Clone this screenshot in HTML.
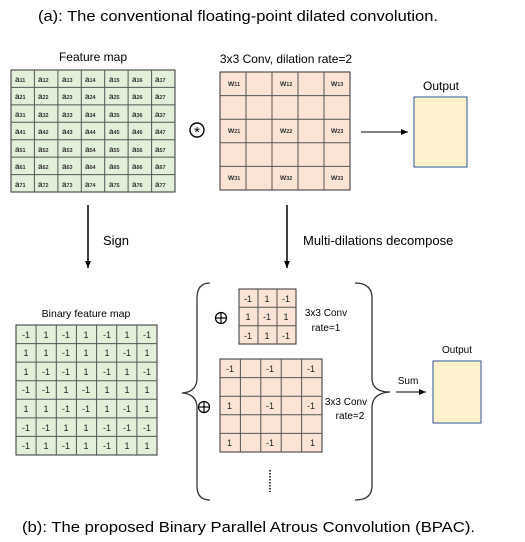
<!DOCTYPE html>
<html><head><meta charset="utf-8"><style>
html,body{margin:0;padding:0;background:#fff;}
svg{display:block;font-family:"Liberation Sans",sans-serif;}
</style></head><body>
<svg width="525" height="542" viewBox="0 0 525 542" xmlns="http://www.w3.org/2000/svg">
<defs><marker id="ah" markerWidth="8" markerHeight="8" refX="7" refY="4" orient="auto" markerUnits="userSpaceOnUse"><path d="M0,1 L7,4 L0,7 z" fill="#000"/></marker></defs>
<text x="38" y="21" font-size="15" textLength="400" lengthAdjust="spacingAndGlyphs">(a): The conventional floating-point dilated convolution.</text>
<text x="22" y="532" font-size="15" textLength="453" lengthAdjust="spacingAndGlyphs">(b): The proposed Binary Parallel Atrous Convolution (BPAC).</text>

<!-- Feature map -->
<text x="93" y="61" font-size="12" text-anchor="middle">Feature map</text>
<rect x="11" y="70" width="164" height="122" fill="#e2efd9" stroke="#333"/>
<g stroke="#555" stroke-width="1">
<line x1="34.4" y1="70" x2="34.4" y2="192"/><line x1="57.9" y1="70" x2="57.9" y2="192"/><line x1="81.3" y1="70" x2="81.3" y2="192"/><line x1="104.7" y1="70" x2="104.7" y2="192"/><line x1="128.1" y1="70" x2="128.1" y2="192"/><line x1="151.6" y1="70" x2="151.6" y2="192"/>
<line x1="11" y1="87.4" x2="175" y2="87.4"/><line x1="11" y1="104.9" x2="175" y2="104.9"/><line x1="11" y1="122.3" x2="175" y2="122.3"/><line x1="11" y1="139.7" x2="175" y2="139.7"/><line x1="11" y1="157.1" x2="175" y2="157.1"/><line x1="11" y1="174.6" x2="175" y2="174.6"/>
</g>
<g font-size="8" font-weight="bold" fill="#333">
<text x="15" y="82">a<tspan font-size="5.5">11</tspan></text><text x="38" y="82">a<tspan font-size="5.5">12</tspan></text><text x="62" y="82">a<tspan font-size="5.5">13</tspan></text><text x="85" y="82">a<tspan font-size="5.5">14</tspan></text><text x="109" y="82">a<tspan font-size="5.5">15</tspan></text><text x="132" y="82">a<tspan font-size="5.5">16</tspan></text><text x="155" y="82">a<tspan font-size="5.5">17</tspan></text>
<text x="15" y="99">a<tspan font-size="5.5">21</tspan></text><text x="38" y="99">a<tspan font-size="5.5">22</tspan></text><text x="62" y="99">a<tspan font-size="5.5">23</tspan></text><text x="85" y="99">a<tspan font-size="5.5">24</tspan></text><text x="109" y="99">a<tspan font-size="5.5">25</tspan></text><text x="132" y="99">a<tspan font-size="5.5">26</tspan></text><text x="155" y="99">a<tspan font-size="5.5">27</tspan></text>
<text x="15" y="117">a<tspan font-size="5.5">31</tspan></text><text x="38" y="117">a<tspan font-size="5.5">32</tspan></text><text x="62" y="117">a<tspan font-size="5.5">33</tspan></text><text x="85" y="117">a<tspan font-size="5.5">34</tspan></text><text x="109" y="117">a<tspan font-size="5.5">35</tspan></text><text x="132" y="117">a<tspan font-size="5.5">36</tspan></text><text x="155" y="117">a<tspan font-size="5.5">37</tspan></text>
<text x="15" y="134">a<tspan font-size="5.5">41</tspan></text><text x="38" y="134">a<tspan font-size="5.5">42</tspan></text><text x="62" y="134">a<tspan font-size="5.5">43</tspan></text><text x="85" y="134">a<tspan font-size="5.5">44</tspan></text><text x="109" y="134">a<tspan font-size="5.5">45</tspan></text><text x="132" y="134">a<tspan font-size="5.5">46</tspan></text><text x="155" y="134">a<tspan font-size="5.5">47</tspan></text>
<text x="15" y="152">a<tspan font-size="5.5">51</tspan></text><text x="38" y="152">a<tspan font-size="5.5">52</tspan></text><text x="62" y="152">a<tspan font-size="5.5">53</tspan></text><text x="85" y="152">a<tspan font-size="5.5">54</tspan></text><text x="109" y="152">a<tspan font-size="5.5">55</tspan></text><text x="132" y="152">a<tspan font-size="5.5">56</tspan></text><text x="155" y="152">a<tspan font-size="5.5">57</tspan></text>
<text x="15" y="169">a<tspan font-size="5.5">61</tspan></text><text x="38" y="169">a<tspan font-size="5.5">62</tspan></text><text x="62" y="169">a<tspan font-size="5.5">63</tspan></text><text x="85" y="169">a<tspan font-size="5.5">64</tspan></text><text x="109" y="169">a<tspan font-size="5.5">65</tspan></text><text x="132" y="169">a<tspan font-size="5.5">66</tspan></text><text x="155" y="169">a<tspan font-size="5.5">67</tspan></text>
<text x="15" y="187">a<tspan font-size="5.5">71</tspan></text><text x="38" y="187">a<tspan font-size="5.5">72</tspan></text><text x="62" y="187">a<tspan font-size="5.5">73</tspan></text><text x="85" y="187">a<tspan font-size="5.5">74</tspan></text><text x="109" y="187">a<tspan font-size="5.5">75</tspan></text><text x="132" y="187">a<tspan font-size="5.5">76</tspan></text><text x="155" y="187">a<tspan font-size="5.5">77</tspan></text>
</g>

<!-- conv symbol -->
<circle cx="197" cy="130" r="7" fill="#fff" stroke="#000" stroke-width="1.4"/>
<text x="197" y="137" font-size="15" text-anchor="middle">*</text>

<!-- Conv dilation -->
<text x="286" y="63" font-size="12" text-anchor="middle">3x3 Conv, dilation rate=2</text>
<rect x="220" y="72" width="130" height="118" fill="#fbe4d5" stroke="#333"/>
<g stroke="#555">
<line x1="246" y1="72" x2="246" y2="190"/><line x1="272" y1="72" x2="272" y2="190"/><line x1="298" y1="72" x2="298" y2="190"/><line x1="324" y1="72" x2="324" y2="190"/>
<line x1="220" y1="95.6" x2="350" y2="95.6"/><line x1="220" y1="119.2" x2="350" y2="119.2"/><line x1="220" y1="142.8" x2="350" y2="142.8"/><line x1="220" y1="166.4" x2="350" y2="166.4"/>
</g>
<g font-size="8" font-weight="bold" fill="#333">
<text x="228" y="86">w<tspan font-size="5.5">11</tspan></text><text x="280" y="86">w<tspan font-size="5.5">12</tspan></text><text x="331" y="86">w<tspan font-size="5.5">13</tspan></text>
<text x="228" y="133">w<tspan font-size="5.5">21</tspan></text><text x="280" y="133">w<tspan font-size="5.5">22</tspan></text><text x="331" y="133">w<tspan font-size="5.5">23</tspan></text>
<text x="228" y="180">w<tspan font-size="5.5">31</tspan></text><text x="280" y="180">w<tspan font-size="5.5">32</tspan></text><text x="331" y="180">w<tspan font-size="5.5">33</tspan></text>
</g>

<line x1="361" y1="132" x2="408" y2="132" stroke="#000" marker-end="url(#ah)"/>
<text x="441" y="90" font-size="12" text-anchor="middle">Output</text>
<rect x="414" y="97" width="53" height="70" fill="#fff2cc" stroke="#2f5597"/>

<!-- down arrows -->
<line x1="88" y1="205" x2="88" y2="268" stroke="#000" stroke-width="1.5" marker-end="url(#ah)"/>
<line x1="287" y1="205" x2="287" y2="268" stroke="#000" stroke-width="1.5" marker-end="url(#ah)"/>
<text x="103" y="245" font-size="13">Sign</text>
<text x="303" y="245" font-size="13">Multi-dilations decompose</text>

<!-- Binary feature map -->
<text x="86" y="317" font-size="10.5" text-anchor="middle">Binary feature map</text>
<rect x="16" y="325" width="141" height="130" fill="#e2efd9" stroke="#333"/>
<g stroke="#555">
<line x1="36.1" y1="325" x2="36.1" y2="455"/><line x1="56.3" y1="325" x2="56.3" y2="455"/><line x1="76.4" y1="325" x2="76.4" y2="455"/><line x1="96.6" y1="325" x2="96.6" y2="455"/><line x1="116.7" y1="325" x2="116.7" y2="455"/><line x1="136.9" y1="325" x2="136.9" y2="455"/>
<line x1="16" y1="343.6" x2="157" y2="343.6"/><line x1="16" y1="362.1" x2="157" y2="362.1"/><line x1="16" y1="380.7" x2="157" y2="380.7"/><line x1="16" y1="399.3" x2="157" y2="399.3"/><line x1="16" y1="417.9" x2="157" y2="417.9"/><line x1="16" y1="436.4" x2="157" y2="436.4"/>
</g>
<g font-size="9" text-anchor="middle" fill="#222">
<text x="26" y="338">-1</text><text x="46" y="338">1</text><text x="66" y="338">-1</text><text x="86" y="338">1</text><text x="107" y="338">-1</text><text x="127" y="338">1</text><text x="147" y="338">-1</text>
<text x="26" y="356">1</text><text x="46" y="356">1</text><text x="66" y="356">-1</text><text x="86" y="356">1</text><text x="107" y="356">1</text><text x="127" y="356">-1</text><text x="147" y="356">1</text>
<text x="26" y="375">1</text><text x="46" y="375">-1</text><text x="66" y="375">-1</text><text x="86" y="375">1</text><text x="107" y="375">-1</text><text x="127" y="375">1</text><text x="147" y="375">-1</text>
<text x="26" y="393">-1</text><text x="46" y="393">-1</text><text x="66" y="393">1</text><text x="86" y="393">-1</text><text x="107" y="393">1</text><text x="127" y="393">1</text><text x="147" y="393">1</text>
<text x="26" y="412">1</text><text x="46" y="412">1</text><text x="66" y="412">-1</text><text x="86" y="412">-1</text><text x="107" y="412">1</text><text x="127" y="412">-1</text><text x="147" y="412">1</text>
<text x="26" y="431">-1</text><text x="46" y="431">-1</text><text x="66" y="431">1</text><text x="86" y="431">1</text><text x="107" y="431">-1</text><text x="127" y="431">-1</text><text x="147" y="431">-1</text>
<text x="26" y="449">-1</text><text x="46" y="449">1</text><text x="66" y="449">-1</text><text x="86" y="449">1</text><text x="107" y="449">-1</text><text x="127" y="449">1</text><text x="147" y="449">1</text>
</g>

<!-- braces -->
<path d="M210,283 Q197,283 197,298 L197,378 Q197,392 182,393 Q197,394 197,408 L197,486 Q197,500 210,500" fill="none" stroke="#333" stroke-width="1.3"/>
<path d="M355,283 Q372,283 372,298 L372,378 Q372,392 390,392 Q372,393 372,408 L372,486 Q372,500 355,500" fill="none" stroke="#333" stroke-width="1.3"/>

<!-- plus-circles -->
<g fill="none" stroke="#000" stroke-width="1.2">
<circle cx="221" cy="318" r="5.5"/><line x1="215.5" y1="318" x2="226.5" y2="318"/><line x1="221" y1="312.5" x2="221" y2="323.5"/>
<circle cx="204" cy="407" r="5.5"/><line x1="198.5" y1="407" x2="209.5" y2="407"/><line x1="204" y1="401.5" x2="204" y2="412.5"/>
</g>

<!-- small grid -->
<rect x="239" y="289" width="57" height="55" fill="#fbe4d5" stroke="#333"/>
<g stroke="#555">
<line x1="258" y1="289" x2="258" y2="344"/><line x1="277" y1="289" x2="277" y2="344"/>
<line x1="239" y1="307.3" x2="296" y2="307.3"/><line x1="239" y1="325.7" x2="296" y2="325.7"/>
</g>
<g font-size="9" text-anchor="middle" fill="#222">
<text x="248" y="302">-1</text><text x="267" y="302">1</text><text x="286" y="302">-1</text>
<text x="248" y="320">1</text><text x="267" y="320">-1</text><text x="286" y="320">1</text>
<text x="248" y="339">-1</text><text x="267" y="339">1</text><text x="286" y="339">-1</text>
</g>
<text x="326" y="316" font-size="10" text-anchor="middle">3x3 Conv</text>
<text x="326" y="331" font-size="10" text-anchor="middle">rate=1</text>

<!-- large grid -->
<rect x="220" y="359" width="102" height="93" fill="#fbe4d5" stroke="#333"/>
<g stroke="#555">
<line x1="240.4" y1="359" x2="240.4" y2="452"/><line x1="260.8" y1="359" x2="260.8" y2="452"/><line x1="281.2" y1="359" x2="281.2" y2="452"/><line x1="301.6" y1="359" x2="301.6" y2="452"/>
<line x1="220" y1="377.6" x2="322" y2="377.6"/><line x1="220" y1="396.2" x2="322" y2="396.2"/><line x1="220" y1="414.8" x2="322" y2="414.8"/><line x1="220" y1="433.4" x2="322" y2="433.4"/>
</g>
<g font-size="9" fill="#222">
<text x="226" y="372">-1</text><text x="266" y="372">-1</text><text x="307" y="372">-1</text>
<text x="227" y="409">1</text><text x="266" y="409">-1</text><text x="307" y="409">-1</text>
<text x="227" y="446">1</text><text x="266" y="446">-1</text><text x="310" y="446">1</text>
</g>
<text x="346" y="405" font-size="10" text-anchor="middle">3x3 Conv</text>
<text x="350" y="419" font-size="10" text-anchor="middle">rate=2</text>
<line x1="270" y1="470" x2="270" y2="492" stroke="#000" stroke-width="1.5" stroke-dasharray="1.5,1.5"/>

<!-- sum -->
<text x="408" y="384" font-size="10" text-anchor="middle">Sum</text>
<line x1="396" y1="392" x2="426" y2="392" stroke="#000" marker-end="url(#ah)"/>
<text x="457" y="353" font-size="10" text-anchor="middle">Output</text>
<rect x="433" y="361" width="48" height="62" fill="#fff2cc" stroke="#2f5597"/>
</svg>
</body></html>
